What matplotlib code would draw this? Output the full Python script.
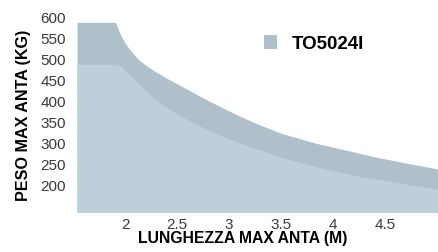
import matplotlib
matplotlib.use("Agg")
import matplotlib.pyplot as plt
from matplotlib.patches import Patch

# Data
x_upper = [1.535, 1.907, 1.93, 1.965, 2.0, 2.045, 2.125, 2.206, 2.286, 2.383, 2.5,
           2.651, 2.8, 2.979, 3.15, 3.296, 3.518, 3.845, 4.162, 4.384, 4.711, 5.01]
y_upper = [588, 588, 572, 553, 538, 522, 500, 484, 471, 457, 441,
           421, 401, 379, 359, 343, 322, 299, 281, 268, 252, 238]
x_lower = [1.535, 1.92, 1.96, 2.0, 2.045, 2.125, 2.206, 2.286, 2.383, 2.5, 2.651,
           2.8, 2.979, 3.15, 3.296, 3.518, 3.845, 4.162, 4.384, 4.711, 5.01]
y_lower = [488, 488, 482, 473, 462, 442, 423, 406, 388, 369, 349,
           331, 312, 296, 284, 265, 243, 225, 215, 202, 190]
x_ticks = [2, 2.5, 3, 3.5, 4, 4.5]
x_tick_labels = ["2", "2.5", "3", "3.5", "4", "4.5"]
y_ticks = [200, 250, 300, 350, 400, 450, 500, 550, 600]
series_label = "TO5024I"

c_upper = "#afc0ca"
c_lower = "#bdcfdb"

plt.rcParams['font.family'] = ['Liberation Sans', 'DejaVu Sans']

fig = plt.figure(figsize=(4.38, 2.52), dpi=100)
ax = fig.add_axes([77/438, 40/252, 361/438, 194.7/252])

ax.fill_between(x_upper, 0, y_upper, color=c_upper, linewidth=0)
ax.fill_between(x_lower, 0, y_lower, color=c_lower, linewidth=0)

ax.set_xlim(1.535, 5.01)
ax.set_ylim(135.6, 600)

for s in ax.spines.values():
    s.set_visible(False)

ax.set_xticks(x_ticks)
ax.set_xticklabels(x_tick_labels)
ax.set_yticks(y_ticks)
ax.tick_params(axis='both', length=0, labelsize=11, labelcolor='#3a3a3a')
ax.tick_params(axis='y', pad=8)
ax.tick_params(axis='x', pad=4)

ax.set_xlabel("LUNGHEZZA MAX ANTA (M)", fontsize=11.3, fontweight='bold', color='black')
ax.xaxis.set_label_coords((243-77)/361, (212-243)/194.7)
ax.xaxis.label.set_verticalalignment('baseline')

ax.set_ylabel("PESO MAX ANTA (KG)", fontsize=11.6, fontweight='bold', color='black')
ax.yaxis.set_label_coords((23.5-77)/361, (212-115.5)/194.7)
ax.yaxis.label.set_verticalalignment('center')

leg = ax.legend(handles=[Patch(color=c_upper, label=series_label, linewidth=0)],
                loc='center left', bbox_to_anchor=((264-77)/361, (212-44)/194.7),
                frameon=False, borderpad=0, borderaxespad=0,
                handlelength=0.7, handleheight=0.7, handletextpad=0.8,
                prop={'size': 13.5, 'weight': 'bold'})

fig.savefig("out.png", dpi=100)
